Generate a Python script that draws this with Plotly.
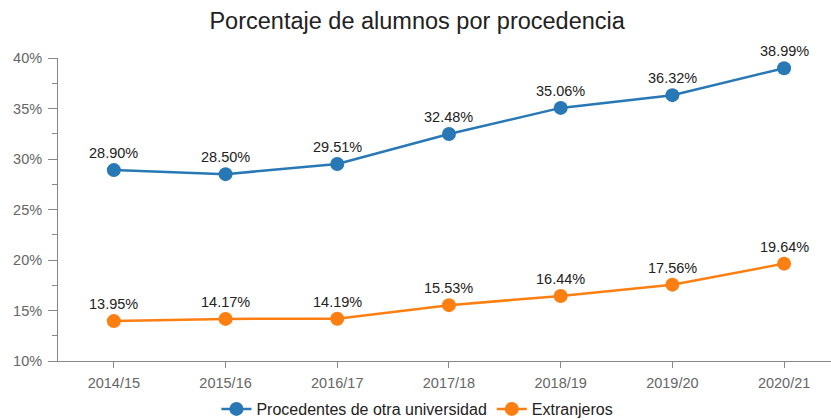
import plotly.graph_objects as go

categories = ["2014/15", "2015/16", "2016/17", "2017/18", "2018/19", "2019/20", "2020/21"]
otra_univ = [28.90, 28.50, 29.51, 32.48, 35.06, 36.32, 38.99]
extranjeros = [13.95, 14.17, 14.19, 15.53, 16.44, 17.56, 19.64]
y_ticks = [10, 15, 20, 25, 30, 35, 40]

FONT = "Liberation Sans, Arial"

fig = go.Figure()
for name, vals, color in [("Procedentes de otra universidad", otra_univ, "#2878b5"),
                          ("Extranjeros", extranjeros, "#fd7f12")]:
    fig.add_trace(go.Scatter(
        x=categories, y=vals, name=name, mode="lines+markers",
        line=dict(color=color, width=2.5),
        marker=dict(color=color, size=14),
        cliponaxis=False,
    ))
    for c, v in zip(categories, vals):
        fig.add_annotation(x=c, y=v, text=f"{v:.2f}%", showarrow=False,
                           xanchor="center", yanchor="middle", yshift=17,
                           font=dict(family=FONT, size=14.5, color="#222222"))

fig.update_layout(
    width=831, height=420,
    margin=dict(l=58, r=0, t=58, b=59, autoexpand=False),
    paper_bgcolor="white", plot_bgcolor="white",
    font=dict(family=FONT, size=14.5, color="#666666"),
    title=dict(text="Porcentaje de alumnos por procedencia", x=0.502, xanchor="center",
               y=1 - 21 / 420, yanchor="middle",
               font=dict(size=23.5, color="#222222", family=FONT)),
    showlegend=True,
    legend=dict(orientation="h", x=0.465, xanchor="center", yref="container",
                y=11 / 420, yanchor="middle",
                font=dict(size=16, color="#222222"), itemwidth=30),
)
fig.update_xaxes(type="category", range=[-0.5, 6.42], showline=True, linecolor="#888888",
                 linewidth=1, ticks="outside", ticklen=6, tickcolor="#888888",
                 showgrid=False, zeroline=False, ticklabelstandoff=3, automargin=False,
                 tickfont=dict(color="#666666", size=14.5))
fig.update_yaxes(range=[10, 40], tickvals=y_ticks, ticktext=[f"{v}%" for v in y_ticks],
                 showline=True, linecolor="#888888", linewidth=1, ticks="outside",
                 ticklen=9, tickcolor="#888888", showgrid=False, zeroline=False,
                 ticklabelstandoff=3, automargin=False,
                 minor=dict(dtick=2.5, tick0=10, ticks="outside", ticklen=5, tickcolor="#888888", showgrid=False),
                 tickfont=dict(color="#666666", size=14.5))

fig.write_html("out.html")
